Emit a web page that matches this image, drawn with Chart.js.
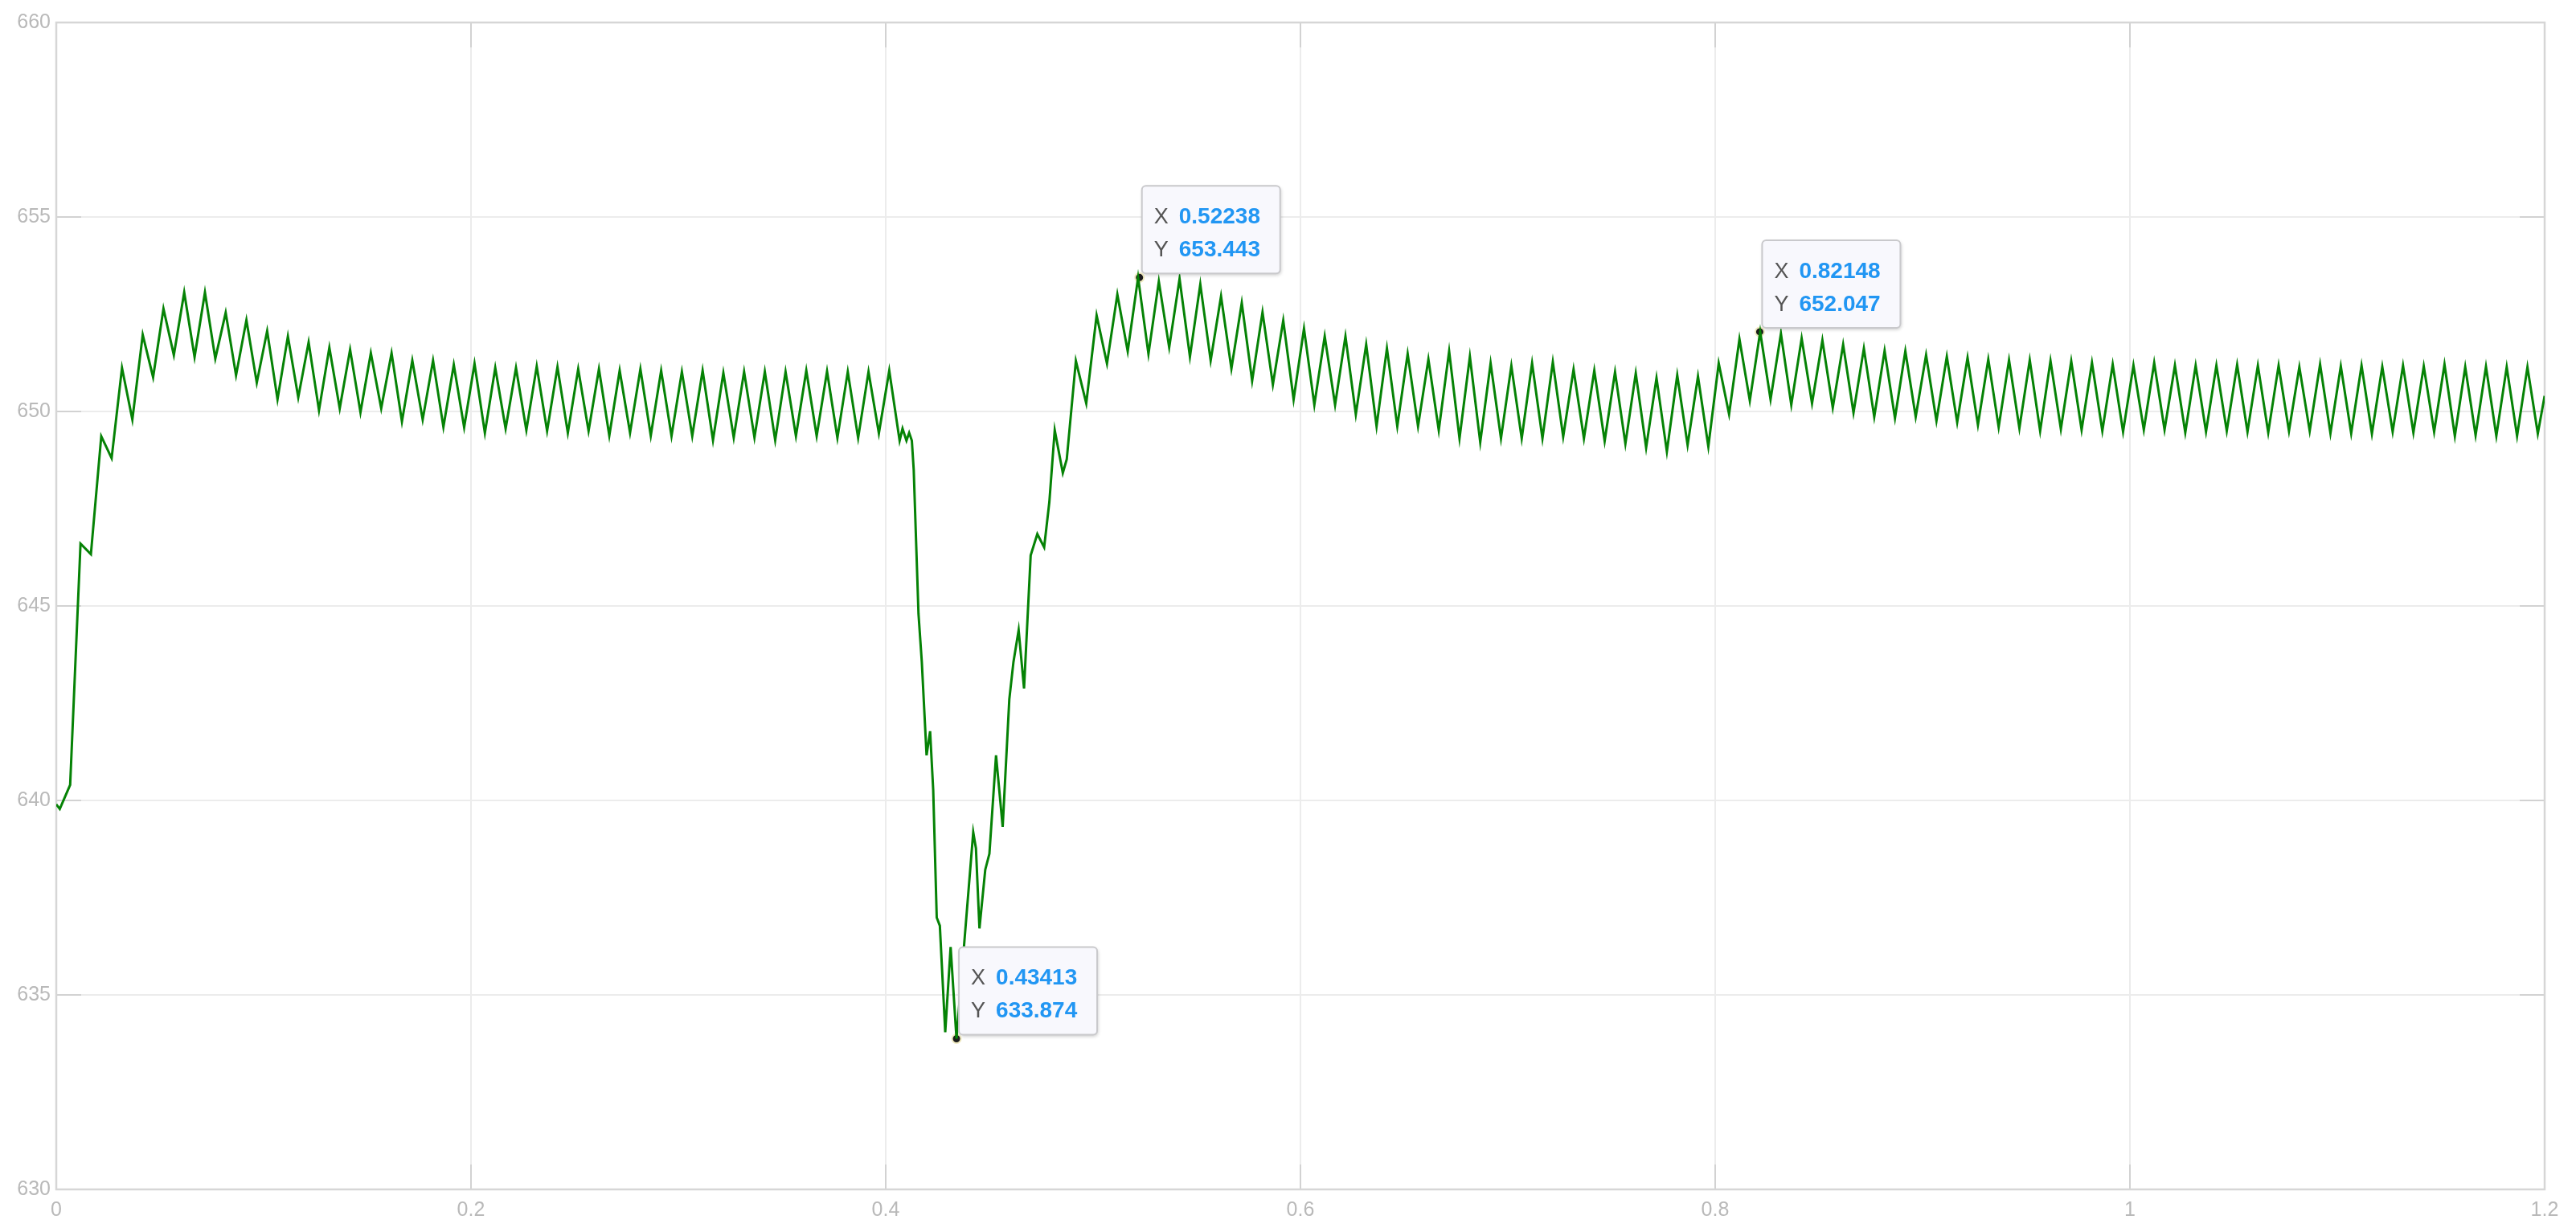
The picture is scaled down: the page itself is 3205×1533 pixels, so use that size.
<!DOCTYPE html>
<html>
<head>
<meta charset="utf-8">
<script src="https://cdn.jsdelivr.net/npm/chart.js@4.4.1/dist/chart.umd.min.js"></script>
<style>
html,body{margin:0;padding:0;background:#fff}
#wrap{width:3205px;height:1533px;position:relative}
</style>
</head>
<body>
<div id="wrap"><canvas id="cv"></canvas></div>
<script>
// ============================================================
// DATA
// ripple extremes come every half period (0.005 s), first one at 0.0017 s
// ============================================================
var rippleT0 = 0.0017, rippleHalf = 0.005;

// extremes j = 0..81 (start-up and first steady part, up to 0.4067 s)
var rippleStart = [
  639.78, 640.4, 646.6, 646.33, 649.36, 648.8, 651.12, 649.79, 651.97, 650.88,
  652.64, 651.45, 653.06, 651.4, 653.06, 651.36, 652.54, 650.93, 652.35, 650.74,
  652.07, 650.31, 651.93, 650.36, 651.78, 650.03, 651.64, 650.08, 651.59, 649.98,
  651.5, 650.08, 651.5, 649.74, 651.31, 649.79, 651.31, 649.6, 651.2, 649.59,
  651.23, 649.45, 651.12, 649.56, 651.12, 649.52, 651.16, 649.5, 651.14, 649.45,
  651.09, 649.5, 651.09, 649.38, 651.05, 649.45, 651.09, 649.38, 651.05, 649.37,
  651.02, 649.37, 651.05, 649.26, 650.99, 649.33, 651.02, 649.33, 651.02, 649.26,
  651.02, 649.37, 651.05, 649.37, 651.03, 649.32, 651.02, 649.32, 651.02, 649.44,
  651.05, 649.25
];

// the sag between 0.408 and 0.487 s (not on the ripple grid)
var dipT = [
  0.4081, 0.4100, 0.4113, 0.4126, 0.4135, 0.4158, 0.4174, 0.4197, 0.4214, 0.4229,
  0.4246, 0.4261, 0.4287, 0.4313, 0.43413, 0.4422, 0.4435, 0.4452, 0.4480, 0.4500,
  0.4532, 0.4564, 0.4596, 0.4616, 0.4641, 0.4667, 0.4699, 0.4731, 0.4764, 0.4789,
  0.4815, 0.4854, 0.4873
];
var dipY = [
  649.56, 649.25, 649.45, 649.25, 648.5, 644.8, 643.56, 641.16, 641.78, 640.27,
  636.99, 636.78, 634.04, 636.23, 633.874, 639.18, 638.77, 636.71, 638.22, 638.63,
  641.16, 639.32, 642.6, 643.56, 644.38, 642.88, 646.3, 646.85, 646.51, 647.67,
  649.52, 648.42, 648.77
];

// extremes j = 98..239 (recovery and second steady part)
var rippleEndFirst = 98;
var rippleEnd = [
  651.3, 650.21, 652.47, 651.23, 653.01, 651.55, 653.443, 651.48, 653.34, 651.65,
  653.41, 651.41, 653.27, 651.31, 652.96, 651.1, 652.79, 650.79, 652.55, 650.69,
  652.34, 650.31, 652.13, 650.17, 651.93, 650.17, 651.93, 649.93, 651.72, 649.62,
  651.62, 649.62, 651.48, 649.62, 651.34, 649.52, 651.55, 649.31, 651.41, 649.21,
  651.24, 649.31, 651.17, 649.31, 651.24, 649.31, 651.27, 649.35, 651.08, 649.31,
  651.05, 649.24, 651.01, 649.17, 650.98, 649.07, 650.86, 648.97, 650.93, 649.14,
  650.9, 649.1, 651.24, 649.93, 651.86, 650.28, 652.047, 650.31, 652.0, 650.17,
  651.88, 650.21, 651.83, 650.1, 651.72, 649.97, 651.62, 649.86, 651.56, 649.83,
  651.55, 649.86, 651.45, 649.76, 651.41, 649.72, 651.38, 649.66, 651.34, 649.6,
  651.32, 649.57, 651.32, 649.5, 651.3, 649.55, 651.29, 649.53, 651.25, 649.5,
  651.21, 649.48, 651.18, 649.53, 651.25, 649.53, 651.18, 649.46, 651.18, 649.48,
  651.18, 649.5, 651.2, 649.48, 651.18, 649.46, 651.18, 649.5, 651.14, 649.5,
  651.21, 649.44, 651.16, 649.44, 651.18, 649.43, 651.15, 649.48, 651.18, 649.46,
  651.16, 649.48, 651.21, 649.37, 651.14, 649.39, 651.15, 649.37, 651.14, 649.37,
  651.14, 649.43
];

// first and last sample of the trace
var edgeT = [0, 1.2];
var edgeY = [639.9, 650.4];

// data tips
var tipX = [0.43413, 0.52238, 0.82148];
var tipY = [633.874, 653.443, 652.047];

// axes
var xTicks = [0, 0.2, 0.4, 0.6, 0.8, 1, 1.2];
var xTickLabels = ['0', '0.2', '0.4', '0.6', '0.8', '1', '1.2'];
var yTicks = [630, 635, 640, 645, 650, 655, 660];
var yTickLabels = ['630', '635', '640', '645', '650', '655', '660'];

// ============================================================
// build the trace
// ============================================================
function rt(v){ return Math.round(v * 100000) / 100000; }

var trace = [];
trace.push({x: edgeT[0], y: edgeY[0]});
for (var i = 0; i < rippleStart.length; i++) {
    trace.push({x: rt(rippleT0 + i * rippleHalf), y: rippleStart[i]});
}
for (var i = 0; i < dipT.length; i++) {
    trace.push({x: dipT[i], y: dipY[i]});
}
for (var i = 0; i < rippleEnd.length; i++) {
    trace.push({x: rt(rippleT0 + (rippleEndFirst + i) * rippleHalf), y: rippleEnd[i]});
}
trace.push({x: edgeT[1], y: edgeY[1]});

var tips = [];
for (var i = 0; i < tipX.length; i++) tips.push({x: tipX[i], y: tipY[i]});

var LBL = '#b9b9b9';
var FONT = '"Liberation Sans", Arial, Helvetica, sans-serif';

// frame + inward ticks, matlab style
var framePlugin = {
    id: 'frame',
    beforeDatasetsDraw: function(ch) {
        var a = ch.chartArea, c = ch.ctx, sx = ch.scales.x, sy = ch.scales.y, L = 31;
        c.save();
        c.strokeStyle = '#d2d2d2';
        c.lineWidth = 2;
        c.beginPath();
        for (var i = 1; i < xTicks.length - 1; i++) {
            var px = Math.round(sx.getPixelForValue(xTicks[i]));
            c.moveTo(px, a.bottom); c.lineTo(px, a.bottom - L);
            c.moveTo(px, a.top); c.lineTo(px, a.top + L);
        }
        for (var i = 1; i < yTicks.length - 1; i++) {
            var py = Math.round(sy.getPixelForValue(yTicks[i]));
            c.moveTo(a.left, py); c.lineTo(a.left + L, py);
            c.moveTo(a.right, py); c.lineTo(a.right - L, py);
        }
        c.stroke();
        c.strokeStyle = '#d6d6d6';
        c.lineWidth = 2.5;
        c.strokeRect(a.left, a.top, a.right - a.left, a.bottom - a.top);
        c.restore();
    }
};

// data tip boxes
var tipPlugin = {
    id: 'tips',
    afterDatasetsDraw: function(ch) {
        var c = ch.ctx, sx = ch.scales.x, sy = ch.scales.y;
        var w = 172, h = 109, r = 5;
        for (var i = 0; i < tipX.length; i++) {
            var px = sx.getPixelForValue(tipX[i]);
            var py = sy.getPixelForValue(tipY[i]);
            var bx = px + 3, by = py - 5 - h;
            c.save();
            c.shadowColor = 'rgba(0,0,0,0.22)';
            c.shadowBlur = 4;
            c.shadowOffsetX = 1;
            c.shadowOffsetY = 2;
            c.beginPath();
            c.roundRect(bx, by, w, h, r);
            c.fillStyle = '#f8f8fd';
            c.fill();
            c.shadowColor = 'transparent';
            c.strokeStyle = '#c9c9cc';
            c.lineWidth = 2;
            c.stroke();
            c.textBaseline = 'alphabetic';
            c.textAlign = 'left';
            c.fillStyle = '#555555';
            c.font = '27px ' + FONT;
            c.fillText('X', bx + 15, by + 47);
            c.fillText('Y', bx + 15, by + 88);
            c.fillStyle = '#2196f3';
            c.font = 'bold 28px ' + FONT;
            c.fillText(String(tipX[i]), bx + 46, by + 47);
            c.fillText(String(tipY[i]), bx + 46, by + 88);
            c.restore();
        }
    }
};

var ch = new Chart(document.getElementById('cv'), {
    type: 'line',
    data: {
        datasets: [{
            data: trace,
            borderColor: '#058205',
            borderWidth: 3,
            pointRadius: 0,
            tension: 0,
            fill: false
        }, {
            data: tips,
            showLine: false,
            pointRadius: 5.5,
            pointBackgroundColor: '#1c1c1c',
            pointBorderColor: '#efe9c0',
            pointBorderWidth: 2
        }]
    },
    options: {
        responsive: true,
        maintainAspectRatio: false,
        animation: false,
        devicePixelRatio: 1,
        layout: { padding: { left: 0, right: 39, top: 28, bottom: 0 } },
        plugins: { legend: { display: false }, tooltip: { enabled: false } },
        scales: {
            x: {
                type: 'linear',
                min: 0,
                max: 1.2,
                afterBuildTicks: function(s) { s.ticks = xTicks.map(function(v){ return {value: v}; }); },
                afterFit: function(s) { s.height = 53; },
                ticks: {
                    autoSkip: false,
                    maxRotation: 0,
                    padding: 11,
                    color: LBL,
                    font: { family: FONT, size: 25 },
                    callback: function(v, i) { return xTickLabels[i]; }
                },
                grid: { color: '#ececec', lineWidth: 2, drawTicks: false },
                border: { display: false }
            },
            y: {
                type: 'linear',
                min: 630,
                max: 660,
                afterBuildTicks: function(s) { s.ticks = yTicks.map(function(v){ return {value: v}; }); },
                afterFit: function(s) { s.width = 70; },
                ticks: {
                    autoSkip: false,
                    padding: 7,
                    color: LBL,
                    font: { family: FONT, size: 25 },
                    callback: function(v, i) { return yTickLabels[i]; }
                },
                grid: { color: '#ececec', lineWidth: 2, drawTicks: false },
                border: { display: false }
            }
        }
    },
    plugins: [framePlugin, tipPlugin]
});
</script>
</body>
</html>
